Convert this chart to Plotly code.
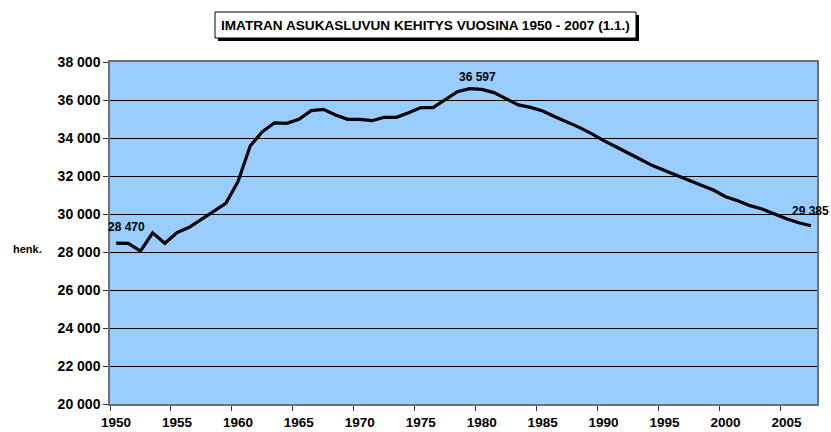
import plotly.graph_objects as go

years = list(range(1950, 2008))
population = [
    28470, 28450, 28050, 29010, 28460, 29020, 29300, 29720, 30120, 30560,
    31700, 33580, 34330, 34800, 34770, 34980, 35440, 35510, 35210, 34980,
    34980, 34910, 35090, 35090, 35330, 35600, 35600, 36030, 36440, 36597,
    36560, 36390, 36050, 35740, 35610, 35420, 35120, 34840, 34560, 34230,
    33860, 33540, 33230, 32880, 32550, 32280, 32050, 31750, 31510, 31260,
    30910, 30700, 30440, 30260, 30000, 29750, 29540, 29385,
]
x_tick_labels = [str(y) for y in range(1950, 2008, 5)]
y_ticks = list(range(20000, 38001, 2000))
labelled_years = [1950, 1979, 2007]
label_xshift = [10, 8, 0]
label_yshift = [16, 12, 15]

title_text = "IMATRAN ASUKASLUVUN KEHITYS VUOSINA 1950 - 2007 (1.1.)"
unit_text = "henk."

FONT = "Liberation Sans, Arial, sans-serif"


def fmt(v):
    return f"{v:,}".replace(",", " ")


W, H = 831, 432
ML, MR, MT, MB = 110, 14, 62, 28
pw, ph = W - ML - MR, H - MT - MB


def px_to_paper(px, py):
    return (px - ML) / pw, (H - MB - py) / ph


fig = go.Figure()
fig.add_trace(go.Scatter(
    x=years, y=population, mode="lines",
    line=dict(color="black", width=3.2, shape="linear"),
    hoverinfo="skip", showlegend=False, cliponaxis=False,
))

annotations = []
for yr, xs, ys in zip(labelled_years, label_xshift, label_yshift):
    v = population[years.index(yr)]
    annotations.append(dict(
        x=yr, y=v, xref="x", yref="y", text="<b>" + fmt(v) + "</b>", showarrow=False,
        xshift=xs, yshift=ys, font=dict(family=FONT, size=12, color="black"),
        xanchor="center", yanchor="middle",
    ))

tx, ty = px_to_paper(425.5, 25.5)
annotations.append(dict(
    x=tx, y=ty, xref="paper", yref="paper", text="<b>" + title_text + "</b>",
    showarrow=False, font=dict(family=FONT, size=13.6, color="black"),
    xanchor="center", yanchor="middle",
))
ux, uy = px_to_paper(11, 249)
annotations.append(dict(
    x=ux, y=uy, xref="paper", yref="paper", text="<b>" + unit_text + "</b>",
    showarrow=False, font=dict(family=FONT, size=11, color="black"),
    xanchor="left", yanchor="middle",
))

# title box with drop shadow
sx0, sy1 = px_to_paper(218, 15)
sx1, sy0 = px_to_paper(639, 41)
bx0, by1 = px_to_paper(215, 12)
bx1, by0 = px_to_paper(636, 38)
shapes = [
    dict(type="rect", xref="paper", yref="paper", x0=sx0, x1=sx1, y0=sy0, y1=sy1,
         fillcolor="black", line=dict(width=0), layer="above"),
    dict(type="rect", xref="paper", yref="paper", x0=bx0, x1=bx1, y0=by0, y1=by1,
         fillcolor="white", line=dict(color="black", width=1), layer="above"),
]

fig.update_layout(
    width=W, height=H, autosize=False,
    margin=dict(l=ML, r=MR, t=MT, b=MB, pad=0, autoexpand=False),
    paper_bgcolor="white",
    plot_bgcolor="#99CCFF",
    separators=", ",
    font=dict(family=FONT, color="black"),
    annotations=annotations,
    shapes=shapes,
    showlegend=False,
)
fig.update_xaxes(
    range=[1949.5, 2007.5],
    tickvals=[int(t) - 0.5 for t in x_tick_labels],
    ticktext=["<b>" + t + "</b>" for t in x_tick_labels],
    ticklabelshift=6,
    ticks="outside", ticklen=5, tickcolor="#333333", tickwidth=1,
    showgrid=False, zeroline=False, automargin=False,
    showline=True, linecolor="#707070", linewidth=1.5, mirror=True,
    tickfont=dict(family=FONT, size=13.5, color="black"),
)
fig.update_yaxes(
    range=[20000, 38000],
    tickvals=y_ticks,
    ticktext=["<b>" + fmt(v) + "</b>" for v in y_ticks],
    ticks="outside", ticklen=5, tickcolor="#333333", tickwidth=1,
    showgrid=True, gridcolor="#000000", gridwidth=1,
    zeroline=False, automargin=False,
    showline=True, linecolor="#707070", linewidth=1.5, mirror=True,
    tickfont=dict(family=FONT, size=14, color="black"),
)

fig.write_html(
    "out.html",
    config={"responsive": False, "displayModeBar": False},
    post_script="document.body.style.margin='0';document.body.style.padding='0';document.body.style.overflow='hidden';",
)
